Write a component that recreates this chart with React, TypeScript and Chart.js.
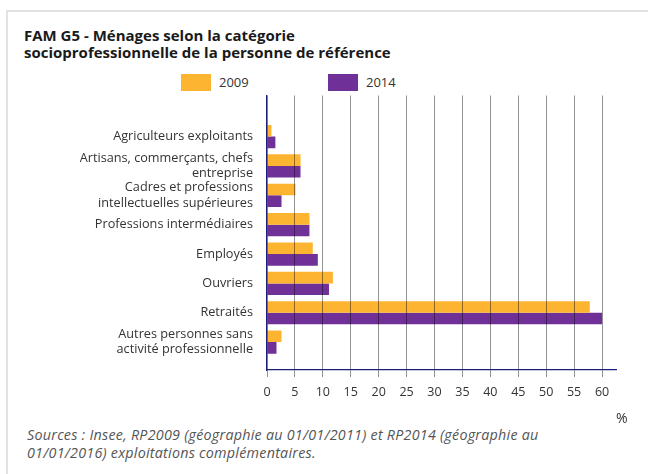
import React, { useEffect, useRef } from "react";
import { Chart, registerables } from "chart.js";

Chart.register(...registerables);

const categories: (string | string[])[] = [
  "Agriculteurs exploitants",
  ["Artisans, commerçants, chefs", "entreprise"],
  ["Cadres et professions", "intellectuelles supérieures"],
  "Professions intermédiaires",
  "Employés",
  "Ouvriers",
  "Retraités",
  ["Autres personnes sans", "activité professionnelle"],
];

const values2009 = [0.8, 6.0, 5.1, 7.6, 8.2, 11.8, 57.8, 2.6];
const values2014 = [1.5, 6.0, 2.6, 7.6, 9.1, 11.1, 60.0, 1.7];

const xTicks = [0, 5, 10, 15, 20, 25, 30, 35, 40, 45, 50, 55, 60];

const COLOR_2009 = "#FDB431";
const COLOR_2014 = "#6F3198";
const NAVY = "#1a1f7a";
const FONT = "'Open Sans', sans-serif";

export default function App() {
  const canvasRef = useRef<HTMLCanvasElement | null>(null);

  useEffect(() => {
    if (!canvasRef.current) return;
    const chart = new Chart(canvasRef.current, {
      type: "bar",
      data: {
        datasets: [
          {
            label: "2009",
            data: values2009.map((v, i) => ({ x: v, y: i })),
            backgroundColor: COLOR_2009,
            categoryPercentage: 0.79,
            barPercentage: 1,
          },
          {
            label: "2014",
            data: values2014.map((v, i) => ({ x: v, y: i })),
            backgroundColor: COLOR_2014,
            categoryPercentage: 0.79,
            barPercentage: 1,
          },
        ],
      },
      options: {
        indexAxis: "y",
        animation: false,
        responsive: false,
        maintainAspectRatio: false,
        layout: { padding: { top: 10, right: 24, left: 0, bottom: 0 } },
        plugins: {
          legend: { display: false },
          title: { display: false },
          tooltip: { enabled: false },
        },
        scales: {
          x: {
            type: "linear",
            position: "bottom",
            min: 0,
            max: 62.5,
            afterBuildTicks: (scale: any) => {
              scale.ticks = xTicks.map((v) => ({ value: v }));
            },
            afterFit: (scale: any) => {
              scale.height = 40;
            },
            grid: {
              display: true,
              drawOnChartArea: true,
              drawTicks: true,
              tickLength: 7,
              color: "rgba(0,0,0,0.42)",
              lineWidth: 1,
              z: 1,
            },
            border: { display: true, color: NAVY, width: 1.2, z: 2 },
            ticks: {
              padding: 8,
              color: "#333",
              font: { family: FONT, size: 12.5 },
              maxRotation: 0,
            },
          },
          y: {
            type: "linear",
            reverse: true,
            offset: false,
            min: -1.4,
            max: 7.95,
            afterBuildTicks: (scale: any) => {
              scale.ticks = categories.map((_, i) => ({ value: i }));
            },
            afterFit: (scale: any) => {
              scale.width = 259;
            },
            grid: { display: false, drawTicks: false, offset: false },
            border: { display: true, color: NAVY, width: 1.2, z: 2 },
            ticks: {
              padding: 14,
              color: "#333",
              font: { family: FONT, size: 12.7, lineHeight: 1.22 },
              autoSkip: false,
              callback: (v: any) => categories[v as number] as any,
            },
          },
        },
      },
    } as any);
    return () => chart.destroy();
  }, []);

  return (
    <div
      style={{
        position: "fixed",
        left: 0,
        top: 0,
        width: 648,
        height: 474,
        background: "#fff",
        overflow: "hidden",
        fontFamily: FONT,
      }}
    >
      <div
        style={{
          position: "absolute",
          left: 6,
          top: 10,
          width: 700,
          height: 500,
          borderLeft: "2px solid #e2e2e2",
          borderTop: "2px solid #e2e2e2",
        }}
      />
      <div
        style={{
          position: "absolute",
          left: 24,
          top: 27,
          fontSize: 15,
          fontWeight: 700,
          lineHeight: "17px",
          color: "#1a1a1a",
        }}
      >
        FAM G5 - Ménages selon la catégorie
        <br />
        socioprofessionnelle de la personne de référence
      </div>
      <div
        style={{
          position: "absolute",
          left: 181,
          top: 73,
          display: "flex",
          alignItems: "center",
          fontSize: 13,
          color: "#333",
        }}
      >
        <span style={{ width: 30, height: 17, background: COLOR_2009, display: "inline-block" }} />
        <span style={{ marginLeft: 8, width: 109 }}>2009</span>
        <span style={{ width: 30, height: 17, background: COLOR_2014, display: "inline-block" }} />
        <span style={{ marginLeft: 8 }}>2014</span>
      </div>
      <canvas
        ref={canvasRef}
        width={632}
        height={344}
        style={{ position: "absolute", left: 8, top: 66, width: 632, height: 344 }}
      />
      <div
        style={{
          position: "absolute",
          left: 616,
          top: 408,
          fontSize: 14,
          color: "#333",
        }}
      >
        %
      </div>
      <div
        style={{
          position: "absolute",
          left: 27,
          top: 426,
          fontSize: 14.3,
          fontWeight: 400,
          fontStyle: "italic",
          letterSpacing: "0.25px",
          lineHeight: "18px",
          color: "#555",
          whiteSpace: "nowrap",
        }}
      >
        Sources : Insee, RP2009 (géographie au 01/01/2011) et RP2014 (géographie au
        <br />
        01/01/2016) exploitations complémentaires.
      </div>
    </div>
  );
}
